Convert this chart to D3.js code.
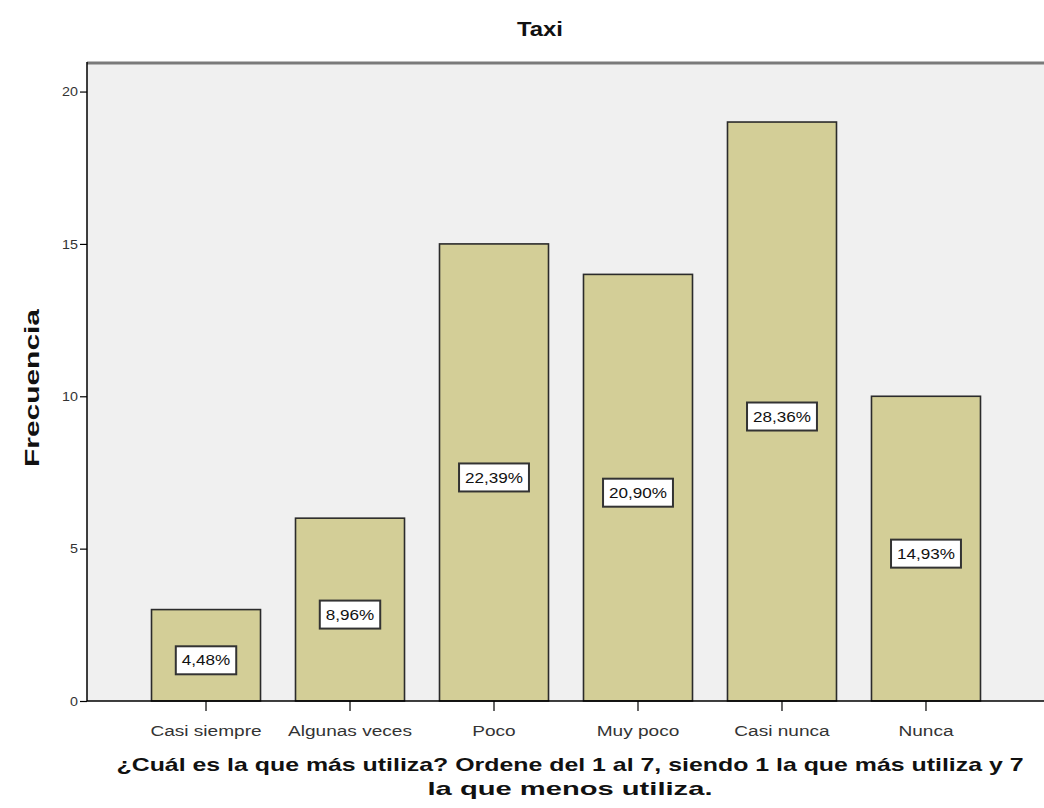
<!DOCTYPE html>
<html><head><meta charset="utf-8">
<script src="https://cdn.jsdelivr.net/npm/d3@7"></script>
<style>body{margin:0;background:#fff}svg{display:block}</style>
</head><body>
<svg id="c" width="1044" height="808"></svg>
<script>
const categories = ["Casi siempre","Algunas veces","Poco","Muy poco","Casi nunca","Nunca"];
const counts = [3,6,15,14,19,10];
const percentLabels = ["4,48%","8,96%","22,39%","20,90%","28,36%","14,93%"];
const yTicks = [0,5,10,15,20];
const title = "Taxi";
const yTitle = "Frecuencia";
const xTitleLines = ["¿Cuál es la que más utiliza? Ordene del 1 al 7, siendo 1 la que más utiliza y 7","la que menos utiliza."];

const svg = d3.select("#c");
const L = 87, R = 1045, T = 62, B = 701;
const font = "'Liberation Sans', Arial, sans-serif";

function stretch(sel, k) {
  sel.each(function () {
    const w = this.getComputedTextLength();
    this.setAttribute("textLength", w * k);
    this.setAttribute("lengthAdjust", "spacingAndGlyphs");
  });
}

const y = d3.scaleLinear().domain([0, 20.97]).range([B, T]);
const x = d3.scaleBand().domain(categories).range([L, R]).paddingInner(0.243).paddingOuter(0.448);

// panel
svg.append("rect").attr("x", L).attr("y", T).attr("width", R - L).attr("height", B - T).attr("fill", "#f0f0f0");
svg.append("line").attr("x1", L).attr("x2", R).attr("y1", T + 1).attr("y2", T + 1).attr("stroke", "#7a7a7a").attr("stroke-width", 3);

// bars
svg.selectAll("rect.bar").data(counts).enter().append("rect")
  .attr("class", "bar")
  .attr("x", (d, i) => x(categories[i]))
  .attr("y", d => y(d))
  .attr("width", x.bandwidth())
  .attr("height", d => B - y(d))
  .attr("fill", "#d3ce97").attr("stroke", "#2b2b2b").attr("stroke-width", 1.6);

// labels
const lg = svg.selectAll("g.lab").data(counts).enter().append("g")
  .attr("transform", (d, i) => `translate(${x(categories[i]) + x.bandwidth() / 2},${y(d / 2) + 5})`);
const lbox = lg.append("rect").attr("y", -14).attr("height", 28)
  .attr("fill", "#fff").attr("stroke", "#333").attr("stroke-width", 2);
const ltxt = lg.append("text").text((d, i) => percentLabels[i]).attr("text-anchor", "middle").attr("dy", "0.36em")
  .attr("font-family", font).attr("font-size", 14).attr("fill", "#111");
stretch(ltxt, 1.22);
ltxt.each(function (d, i) {
  const w = +this.getAttribute("textLength") + 12;
  d3.select(lbox.nodes()[i]).attr("x", -w / 2).attr("width", w);
});

// y axis
const ya = svg.append("g").attr("transform", `translate(${L},0)`)
  .call(d3.axisLeft(y).tickValues(yTicks).tickSize(7).tickFormat(d3.format("d")));
ya.select(".domain").attr("d", `M0,${T}V${B}`).attr("stroke", "#000").attr("stroke-width", 1.5);
ya.selectAll(".tick line").attr("stroke", "#000").attr("stroke-width", 1.2);
const yt = ya.selectAll(".tick text").attr("font-family", font).attr("font-size", 13).attr("fill", "#333").attr("x", -9);
stretch(yt, 1.1);

// x axis
const xa = svg.append("g").attr("transform", `translate(0,${B})`)
  .call(d3.axisBottom(x).tickSize(10).tickSizeOuter(0));
xa.select(".domain").attr("d", `M${L},0H${R}`).attr("stroke", "#000").attr("stroke-width", 1.5);
xa.selectAll(".tick line").attr("stroke", "#000").attr("stroke-width", 1.2);
const xt = xa.selectAll(".tick text").attr("font-family", font).attr("font-size", 14).attr("fill", "#333")
  .attr("y", 35).attr("dy", 0);
stretch(xt, 1.36);

// titles
svg.append("text").text(title).attr("x", 540).attr("y", 36).attr("text-anchor", "middle")
  .attr("font-family", font).attr("font-weight", "bold").attr("font-size", 20).attr("fill", "#111")
  .attr("textLength", 46).attr("lengthAdjust", "spacingAndGlyphs");
svg.append("text").text(yTitle).attr("transform", `translate(39,388) rotate(-90)`).attr("text-anchor", "middle")
  .attr("font-family", font).attr("font-weight", "bold").attr("font-size", 20).attr("fill", "#111")
  .attr("textLength", 158).attr("lengthAdjust", "spacingAndGlyphs");
const xTitleWidths = [907, 285];
svg.append("g").selectAll("text").data(xTitleLines).enter().append("text")
  .text(d => d).attr("x", 570).attr("y", (d, i) => 771 + i * 24).attr("text-anchor", "middle")
  .attr("font-family", font).attr("font-weight", "bold").attr("font-size", 19).attr("fill", "#111")
  .attr("textLength", (d, i) => xTitleWidths[i]).attr("lengthAdjust", "spacingAndGlyphs");
</script>
</body></html>
